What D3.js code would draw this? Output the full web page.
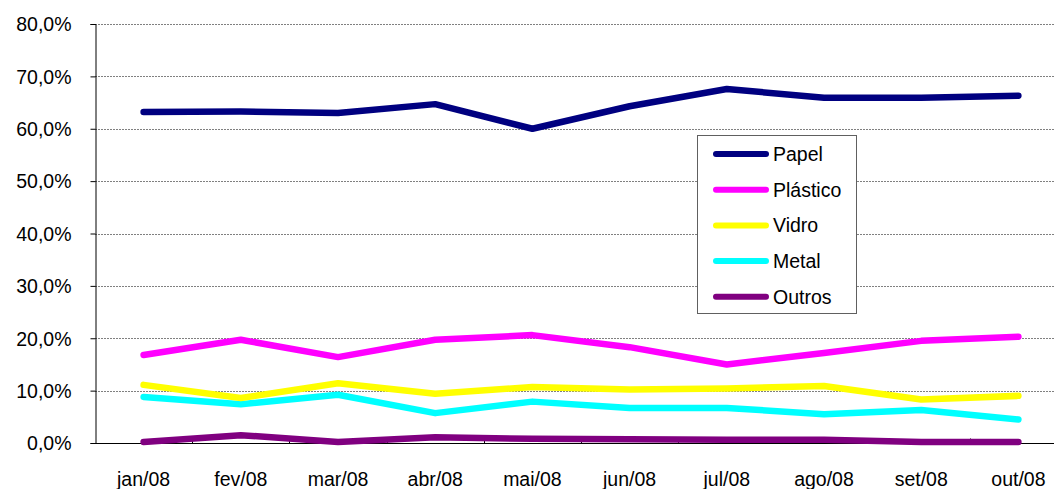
<!DOCTYPE html>
<html><head><meta charset="utf-8">
<script src="https://cdn.jsdelivr.net/npm/d3@7"></script>
<style>
html,body{margin:0;padding:0;background:#fff;overflow:hidden;}
text{font-family:"Liberation Sans",Arial,sans-serif;}
</style></head>
<body>
<svg id="chart" width="1054" height="489"></svg>
<script>
const categories = ["jan/08","fev/08","mar/08","abr/08","mai/08","jun/08","jul/08","ago/08","set/08","out/08"];
const papel    = [63.2, 63.3, 63.0, 64.7, 60.0, 64.3, 67.6, 65.9, 65.9, 66.3];
const plastico = [16.8, 19.7, 16.4, 19.7, 20.6, 18.3, 15.0, 17.2, 19.5, 20.3];
const vidro    = [11.1,  8.6, 11.4,  9.4, 10.7, 10.2, 10.4, 10.9,  8.3,  9.0];
const metal    = [ 8.8,  7.4,  9.2,  5.7,  7.9,  6.7,  6.7,  5.5,  6.3,  4.5];
const outros   = [ 0.2,  1.5,  0.2,  1.1,  0.8,  0.7,  0.6,  0.6,  0.2,  0.2];
const seriesNames = ["Papel","Plástico","Vidro","Metal","Outros"];
const seriesColors = ["#000080","#FF00FF","#FFFF00","#00FFFF","#800080"];
const yTicks = [0,10,20,30,40,50,60,70,80];

(function(){
const series = [papel, plastico, vidro, metal, outros].map((v,i)=>({name:seriesNames[i], color:seriesColors[i], values:v}));
const FS = "19.5px";
const svg = d3.select("#chart");
const pL = 95, pR = 1067, pT = 24, pB = 443;
const x = d3.scaleBand().domain(categories).range([pL, pR]);
const y = d3.scaleLinear().domain([0,80]).range([pB, pT]);

// gridlines
svg.append("g").selectAll("line").data(yTicks.filter(d=>d>0)).join("line")
  .attr("x1", pL).attr("x2", pR)
  .attr("y1", d=>Math.round(y(d))+0.5).attr("y2", d=>Math.round(y(d))+0.5)
  .attr("stroke", "#808080").attr("stroke-width",1).attr("stroke-dasharray","2,1");

// y axis
const yAxis = d3.axisLeft(y).tickValues(yTicks).tickSize(5).tickPadding(20)
  .tickFormat(d=>d3.format(".1f")(d).replace(".",",")+"%");
const gy = svg.append("g").attr("transform",`translate(${pL+0.5},0)`).call(yAxis);
gy.attr("font-size", null).attr("font-family", null);
gy.select(".domain").attr("stroke","#000");
gy.selectAll(".tick line").attr("stroke","#000");
gy.selectAll(".tick text").style("font-size",FS).attr("fill","#000").attr("dy","0.35em").attr("x",-24);

// x axis
const gx = svg.append("g").attr("transform",`translate(0,${pB+0.5})`);
gx.append("line").attr("x1",pL).attr("x2",pR).attr("stroke","#000");
gx.selectAll("line.tk").data(categories.slice(1)).join("line").attr("class","tk")
  .attr("x1",d=>Math.round(x(d))+0.5).attr("x2",d=>Math.round(x(d))+0.5)
  .attr("y1",-5).attr("y2",0).attr("stroke","#000");
gx.selectAll("text").data(categories).join("text")
  .attr("x", d=>x(d)+x.bandwidth()/2).attr("y", 42)
  .attr("text-anchor","middle").style("font-size",FS).attr("fill","#000")
  .text(d=>d);

// lines
const line = d3.line().x((d,i)=>x(categories[i])+x.bandwidth()/2).y(d=>y(d));
svg.append("g").selectAll("path").data(series.slice().reverse()).join("path")
  .attr("d", d=>line(d.values)).attr("fill","none")
  .attr("stroke", d=>d.color).attr("stroke-width",6.5)
  .attr("stroke-linejoin","round").attr("stroke-linecap","round");

// legend
const lg = svg.append("g");
lg.append("rect").attr("x",697.5).attr("y",135.5).attr("width",159).attr("height",178)
  .attr("fill","#fff").attr("stroke","#606060").attr("stroke-width",1);
const items = lg.selectAll("g").data(series).join("g")
  .attr("transform",(d,i)=>`translate(0,${154 + i*35.7})`);
items.append("line").attr("x1",716).attr("x2",766).attr("y1",0).attr("y2",0)
  .attr("stroke",d=>d.color).attr("stroke-width",6).attr("stroke-linecap","round");
items.append("text").attr("x",773).attr("y",0).attr("dy","0.35em")
  .style("font-size",FS).attr("fill","#000").text(d=>d.name);
})();
</script>
</body></html>
